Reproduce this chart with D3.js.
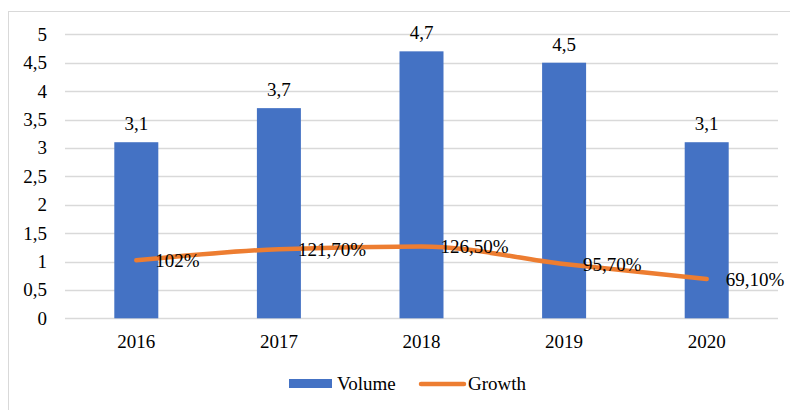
<!DOCTYPE html>
<html>
<head>
<meta charset="utf-8">
<script src="https://cdn.jsdelivr.net/npm/d3@7"></script>
<style>
body { margin: 0; background: #fff; }
text { font-family: "Liberation Serif", "Times New Roman", serif; fill: #000; }
</style>
</head>
<body>
<svg id="chart" width="790" height="410"></svg>
<script>
var years = ["2016", "2017", "2018", "2019", "2020"];
var volume = [3.1, 3.7, 4.7, 4.5, 3.1];
var volumeLabels = ["3,1", "3,7", "4,7", "4,5", "3,1"];
var growth = [102, 121.7, 126.5, 95.7, 69.1];
var growthLabels = ["102%", "121,70%", "126,50%", "95,70%", "69,10%"];
var yTicks = [0, 0.5, 1, 1.5, 2, 2.5, 3, 3.5, 4, 4.5, 5];

var plotLeft = 65, plotRight = 778, plotTop = 34.3, plotBottom = 318.3;

var svg = d3.select("#chart");
var fmt = d3.formatLocale({decimal: ",", thousands: ".", grouping: [3], currency: ["", ""]}).format("~g");

// frame
svg.append("rect")
    .attr("x", 8.5).attr("y", 11.5)
    .attr("width", 800).attr("height", 420)
    .attr("fill", "none").attr("stroke", "#d9d9d9");

var x = d3.scaleBand().domain(years).range([plotLeft, plotRight]);
var y = d3.scaleLinear().domain([0, 5]).range([plotBottom, plotTop]);

// grid
svg.append("g").selectAll("line").data(yTicks).enter().append("line")
    .attr("x1", plotLeft).attr("x2", plotRight)
    .attr("y1", function(d) { return Math.round(y(d)) + 0.5; })
    .attr("y2", function(d) { return Math.round(y(d)) + 0.5; })
    .attr("stroke", "#d9d9d9").attr("stroke-width", 1.3);

// y axis labels
var yAxis = svg.append("g")
    .attr("transform", "translate(" + plotLeft + ",0)")
    .call(d3.axisLeft(y).tickValues(yTicks).tickFormat(fmt).tickSize(0).tickPadding(18));
yAxis.select(".domain").remove();
yAxis.selectAll("text").style("font-family", "Liberation Serif").style("font-size", "19px").attr("fill", "#000");

// x axis labels
var xAxis = svg.append("g")
    .attr("transform", "translate(0," + plotBottom + ")")
    .call(d3.axisBottom(x).tickSize(0).tickPadding(16));
xAxis.select(".domain").remove();
xAxis.selectAll("text").style("font-family", "Liberation Serif").style("font-size", "19px").attr("fill", "#000");

// bars
var barW = 44;
var cx = function(i) { return x(years[i]) + x.bandwidth() / 2; };
svg.append("g").selectAll("rect").data(volume).enter().append("rect")
    .attr("x", function(d, i) { return cx(i) - barW / 2; })
    .attr("y", function(d) { return y(d); })
    .attr("width", barW)
    .attr("height", function(d) { return plotBottom - y(d); })
    .attr("fill", "#4472c4");

svg.append("g").selectAll("text").data(volume).enter().append("text")
    .attr("x", function(d, i) { return cx(i); })
    .attr("y", function(d) { return y(d) - 12; })
    .attr("text-anchor", "middle")
    .style("font-size", "19px")
    .text(function(d, i) { return volumeLabels[i]; });

// growth line
var line = d3.line()
    .x(function(d, i) { return cx(i); })
    .y(function(d) { return y(d / 100); })
    .curve(d3.curveMonotoneX);
svg.append("path")
    .datum(growth)
    .attr("d", line)
    .attr("fill", "none")
    .attr("stroke", "#ed7d31")
    .attr("stroke-width", 4.5)
    .attr("stroke-linecap", "round");

svg.append("g").selectAll("text").data(growth).enter().append("text")
    .attr("x", function(d, i) { return cx(i) + 19; })
    .attr("y", function(d) { return y(d / 100); })
    .attr("dy", "0.35em")
    .style("font-size", "19px")
    .text(function(d, i) { return growthLabels[i]; });

// legend
var legend = svg.append("g");
legend.append("rect").attr("x", 289).attr("y", 379).attr("width", 43).attr("height", 9).attr("fill", "#4472c4");
legend.append("text").attr("x", 337).attr("y", 390).style("font-size", "19px").text("Volume");
legend.append("line").attr("x1", 421).attr("x2", 464).attr("y1", 384).attr("y2", 384)
    .attr("stroke", "#ed7d31").attr("stroke-width", 4.5).attr("stroke-linecap", "round");
legend.append("text").attr("x", 468).attr("y", 390).style("font-size", "19px").text("Growth");
</script>
</body>
</html>
